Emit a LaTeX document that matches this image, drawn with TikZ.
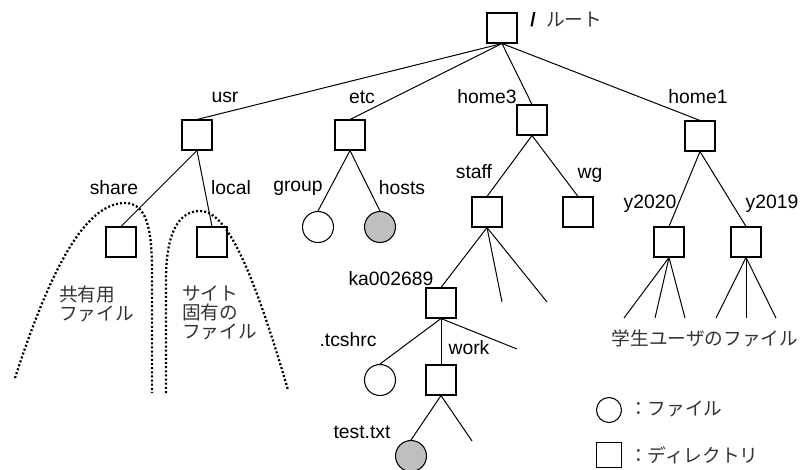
\documentclass[tikz,border=0pt]{standalone}
\usepackage{fontspec}
\setmainfont{Liberation Sans}
\newfontfamily\jpfont{Noto Sans CJK JP}
\begin{document}
\begin{tikzpicture}[x=0.75pt,y=-0.75pt,
  dirbox/.style={draw,line width=0.8pt,rectangle,minimum size=22.5pt,inner sep=0pt},
  filec/.style={draw,line width=0.8pt,circle,minimum size=23.25pt,inner sep=0pt},
  gfile/.style={filec,fill=black!25},
  lab/.style={font=\fontsize{14.5}{16}\selectfont,inner sep=0pt},
  jlab/.style={font=\jpfont\fontsize{14}{14.25}\selectfont,text=black!80,inner sep=0pt},
  edge/.style={line width=0.75pt},
  dotcurve/.style={line width=1.7pt,dash pattern=on 1.5pt off 1.6pt}]
\useasboundingbox (0,0) rectangle (803,469);
% nodes
\node[dirbox] (root) at (502,28) {};
\node[dirbox] (usr) at (197,135) {};
\node[dirbox] (etc) at (350,135) {};
\node[dirbox] (home3) at (532,120) {};
\node[dirbox] (home1) at (700,136) {};
\node[dirbox] (share) at (121,242) {};
\node[dirbox] (local) at (212,242) {};
\node[filec] (group) at (318,227) {};
\node[gfile] (hosts) at (380,227) {};
\node[dirbox] (staff) at (487,212) {};
\node[dirbox] (wg) at (578,212) {};
\node[dirbox] (ka) at (441,303) {};
\node[filec] (tcshrc) at (380,380) {};
\node[dirbox] (work) at (441,380) {};
\node[gfile] (test) at (411,456) {};
\node[dirbox] (y2020) at (669,242) {};
\node[dirbox] (y2019) at (746,242) {};
% free ends
\coordinate (s1) at (502,302);
\coordinate (s2) at (547,302);
\coordinate (k3) at (517,349);
\coordinate (w2) at (472,441);
\coordinate (a1) at (624,318);
\coordinate (a2) at (655,318);
\coordinate (a3) at (685,318);
\coordinate (b1) at (716,318);
\coordinate (b2) at (746,318);
\coordinate (b3) at (776,318);
% connectors
\draw[edge] (root.south) -- (usr.north);
\draw[edge] (root.south) -- (etc.north);
\draw[edge] (root.south) -- (home3.north);
\draw[edge] (root.south) -- (home1.north);
\draw[edge] (usr.south) -- (share.north);
\draw[edge] (usr.south) -- (local.north);
\draw[edge] (etc.south) -- (group.north);
\draw[edge] (etc.south) -- (hosts.north);
\draw[edge] (home3.south) -- (staff.north);
\draw[edge] (home3.south) -- (wg.north);
\draw[edge] (staff.south) -- (ka.north);
\draw[edge] (staff.south) -- (s1);
\draw[edge] (staff.south) -- (s2);
\draw[edge] (ka.south) -- (tcshrc.north);
\draw[edge] (ka.south) -- (work.north);
\draw[edge] (ka.south) -- (k3);
\draw[edge] (work.south) -- (test.north);
\draw[edge] (work.south) -- (w2);
\draw[edge] (home1.south) -- (y2020.north);
\draw[edge] (home1.south) -- (y2019.north);
\draw[edge] (y2020.south) -- (a1);
\draw[edge] (y2020.south) -- (a2);
\draw[edge] (y2020.south) -- (a3);
\draw[edge] (y2019.south) -- (b1);
\draw[edge] (y2019.south) -- (b2);
\draw[edge] (y2019.south) -- (b3);
% dotted regions
\draw[dotcurve] (15,378) .. controls (50,270) and (85,203) .. (125,203)
  .. controls (145,203) and (152,225) .. (152,270) -- (152,393);
\draw[dotcurve] (166,393) -- (166,280) .. controls (166,230) and (180,211) .. (200,211)
  .. controls (225,211) and (250,260) .. (288,390);
% labels
\node[lab,font=\bfseries\fontsize{14.5}{16}\selectfont] (slash) at (533,20) {/};
\node[jlab] (rootlab) at (574,20) {ルート};
\node[lab] (lusr) at (225,97) {usr};
\node[lab] (letc) at (362,97) {etc};
\node[lab] (lhome3) at (487,97) {home3};
\node[lab] (lhome1) at (698,97) {home1};
\node[lab] (lshare) at (114,188) {share};
\node[lab] (llocal) at (231,188) {local};
\node[lab] (lgroup) at (298,188) {group};
\node[lab] (lhosts) at (402,188) {hosts};
\node[lab] (lstaff) at (474,172) {staff};
\node[lab] (lwg) at (590,175) {wg};
\node[lab] (lka) at (391,279) {ka002689};
\node[lab] (ltcshrc) at (348,340) {.tcshrc};
\node[lab] (lwork) at (469,348) {work};
\node[lab] (ltest) at (362,432) {test.txt};
\node[lab] (ly2020) at (650,204) {y2020};
\node[lab] (ly2019) at (772,204) {y2019};
\node[jlab] (student) at (705,338) {学生ユーザのファイル};
\node[jlab,align=left,anchor=west] (sharetxt) at (59,303.5) {共有用\\ファイル};
\node[jlab,align=left,anchor=west] (localtxt) at (182,313) {サイト\\固有の\\ファイル};
% legend
\node[draw,line width=0.8pt,circle,minimum size=18.75pt,inner sep=0pt] (legc) at (609,410) {};
\node[draw,line width=0.8pt,rectangle,minimum size=18.75pt,inner sep=0pt] (legs) at (609,455) {};
\node[jlab,anchor=west] (legctxt) at (629,409) {：ファイル};
\node[jlab,anchor=west] (legstxt) at (629,455) {：ディレクトリ};
\end{tikzpicture}
\end{document}
